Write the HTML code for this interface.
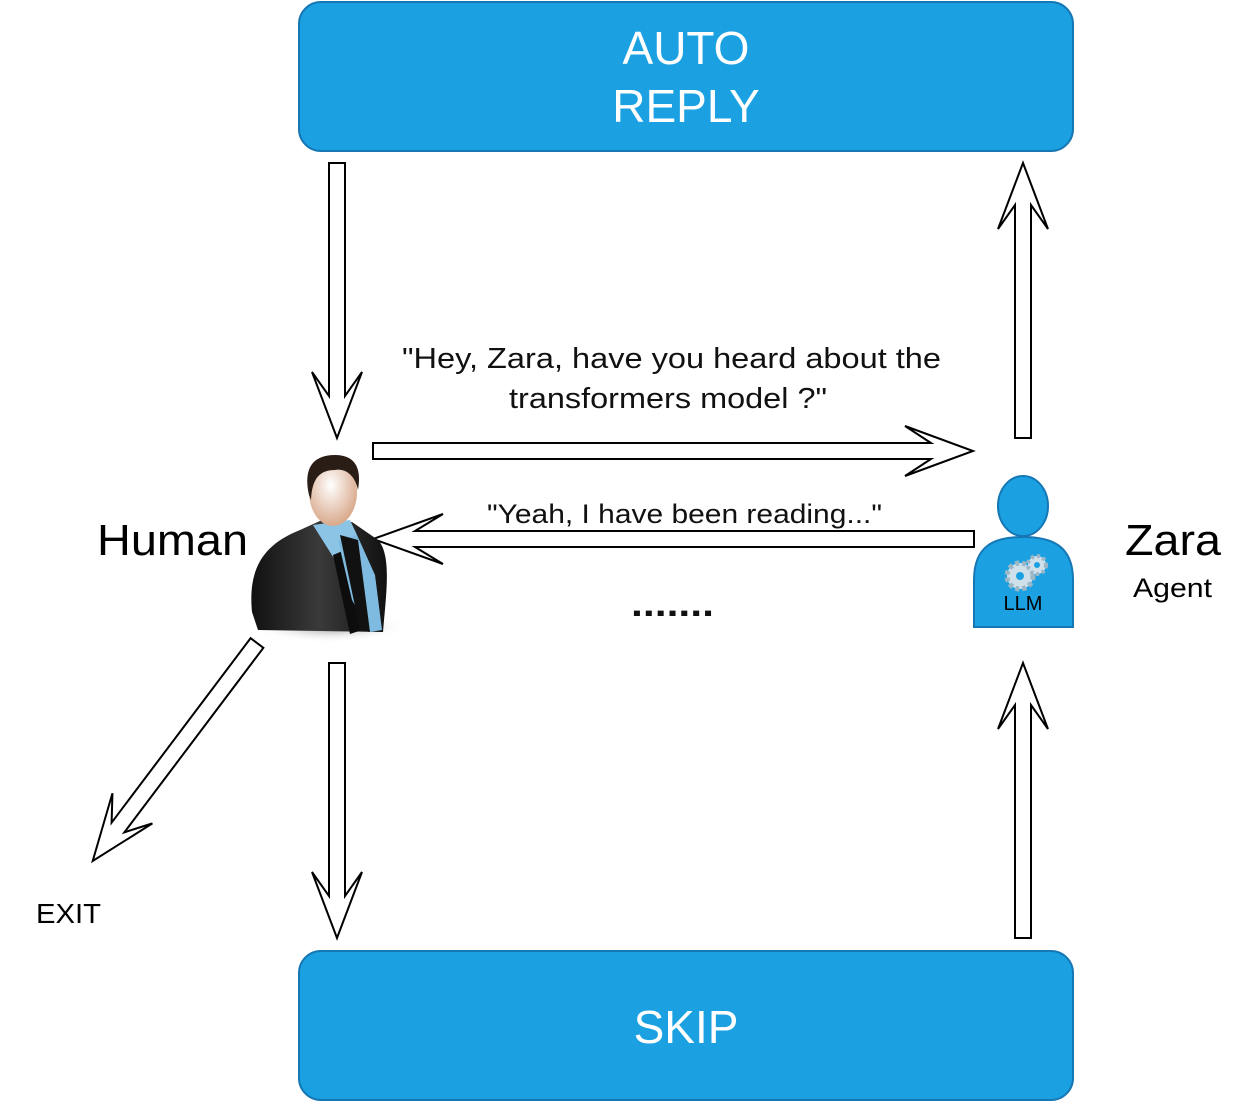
<!DOCTYPE html>
<html><head><style>
html,body{margin:0;padding:0;background:#fff;}
svg{display:block;font-family:"Liberation Sans",Arial,sans-serif;}
</style></head><body>
<svg width="1250" height="1103" viewBox="0 0 1250 1103">
<defs>
<radialGradient id="face" cx="0.45" cy="0.4" r="0.6"><stop offset="0" stop-color="#fff"/><stop offset="1" stop-color="#d9a98c"/></radialGradient>
<radialGradient id="shadow" cx="0.5" cy="0.5" r="0.5"><stop offset="0" stop-color="#999"/><stop offset="1" stop-color="#fff" stop-opacity="0"/></radialGradient>
<linearGradient id="suit" x1="0" y1="0" x2="1" y2="0"><stop offset="0" stop-color="#111"/><stop offset="0.5" stop-color="#3a3a3a"/><stop offset="1" stop-color="#111"/></linearGradient>
</defs>
<rect x="299" y="2" width="774" height="149" rx="22" fill="#1ba1e2" stroke="#1677b5" stroke-width="2"/>
<text x="686" y="64" font-size="46" fill="#fff" text-anchor="middle">AUTO</text>
<text x="686" y="122" font-size="46" fill="#fff" text-anchor="middle">REPLY</text>
<rect x="299" y="951" width="774" height="149" rx="22" fill="#1ba1e2" stroke="#1677b5" stroke-width="2"/>
<text x="686" y="1043" font-size="46" fill="#fff" text-anchor="middle">SKIP</text>

<g fill="#fff" stroke="#000" stroke-width="2" stroke-linejoin="miter">
<polygon transform="translate(337,163) rotate(90)" points="0,-8 233,-8 209,-25 275,0 209,25 233,8 0,8"/>
<polygon transform="translate(337,663) rotate(90)" points="0,-8 233,-8 209,-25 275,0 209,25 233,8 0,8"/>
<polygon transform="translate(1023,438) rotate(-90)" points="0,-8 233,-8 209,-25 275,0 209,25 233,8 0,8"/>
<polygon transform="translate(1023,938) rotate(-90)" points="0,-8 233,-8 209,-25 275,0 209,25 233,8 0,8"/>
<polygon transform="translate(373,451)" points="0,-8 558,-8 532,-25 600,0 532,25 558,8 0,8"/>
<polygon transform="translate(974,539) rotate(180)" points="0,-8 559,-8 531,-25 601,0 531,25 559,8 0,8"/>
<polygon transform="translate(257,643) rotate(127)" points="0,-8 231,-8 207,-25 273,0 207,25 231,8 0,8"/>
</g>

<text x="402" y="368" font-size="29" fill="#111" textLength="539" lengthAdjust="spacingAndGlyphs">"Hey, Zara, have you heard about the</text>
<text x="509" y="408" font-size="29" fill="#111" textLength="318" lengthAdjust="spacingAndGlyphs">transformers model ?"</text>
<text x="487" y="523" font-size="27" fill="#111" textLength="395" lengthAdjust="spacingAndGlyphs">"Yeah, I have been reading..."</text>
<text x="631" y="616" font-size="36" font-weight="bold" fill="#111" textLength="83" lengthAdjust="spacingAndGlyphs">.......</text>
<text x="97" y="555" font-size="44" fill="#000" textLength="151" lengthAdjust="spacingAndGlyphs">Human</text>
<text x="1125" y="555" font-size="44" fill="#000" textLength="96" lengthAdjust="spacingAndGlyphs">Zara</text>
<text x="1133" y="597" font-size="27" fill="#000" textLength="79" lengthAdjust="spacingAndGlyphs">Agent</text>
<text x="36" y="923" font-size="28" fill="#000" textLength="65" lengthAdjust="spacingAndGlyphs">EXIT</text>

<!-- Human figure -->
<ellipse cx="330" cy="627" rx="78" ry="16" fill="url(#shadow)"/>
<path d="M252,612 C248,570 262,545 300,530 L322,520 L352,522 L378,540 C392,555 386,595 383,632 L258,630 Z" fill="url(#suit)"/>
<path d="M313,525 L335,560 L357,535 L350,520 Z" fill="#8cc4e6"/>
<path d="M333,555 L345,550 L362,630 L350,634 Z" fill="#0d0d0d"/>
<path d="M338,540 L352,600 L370,632 L382,630 L375,575 L357,535 Z" fill="#7fbbe0"/>
<path d="M340,535 L360,630 L370,632 L358,540 Z" fill="#111"/>
<ellipse cx="333" cy="492" rx="24" ry="34" fill="url(#face)"/>
<path d="M309,495 C303,468 313,455 335,455 C355,455 362,468 358,490 C355,475 345,468 335,470 C320,470 312,478 311,500 Z" fill="#2a1d16"/>

<!-- Zara agent -->
<ellipse cx="1023" cy="506" rx="25" ry="30" fill="#1ba1e2" stroke="#1677b5" stroke-width="2"/>
<path d="M974,627 L974,580 C974,545 995,537 1023,537 C1051,537 1073,545 1073,580 L1073,627 Z" fill="#1ba1e2" stroke="#1677b5" stroke-width="2"/>
<circle cx="1020" cy="576" r="13" fill="#cfe0ea" stroke="#9db6c6" stroke-width="5" stroke-dasharray="4 3"/>
<circle cx="1020" cy="576" r="4" fill="#1ba1e2"/>
<circle cx="1037" cy="565" r="9" fill="#cfe0ea" stroke="#9db6c6" stroke-width="4" stroke-dasharray="3 3"/>
<circle cx="1037" cy="565" r="3" fill="#1ba1e2"/>
<text x="1023" y="610" font-size="20" text-anchor="middle" fill="#000">LLM</text>
</svg>
</body></html>
